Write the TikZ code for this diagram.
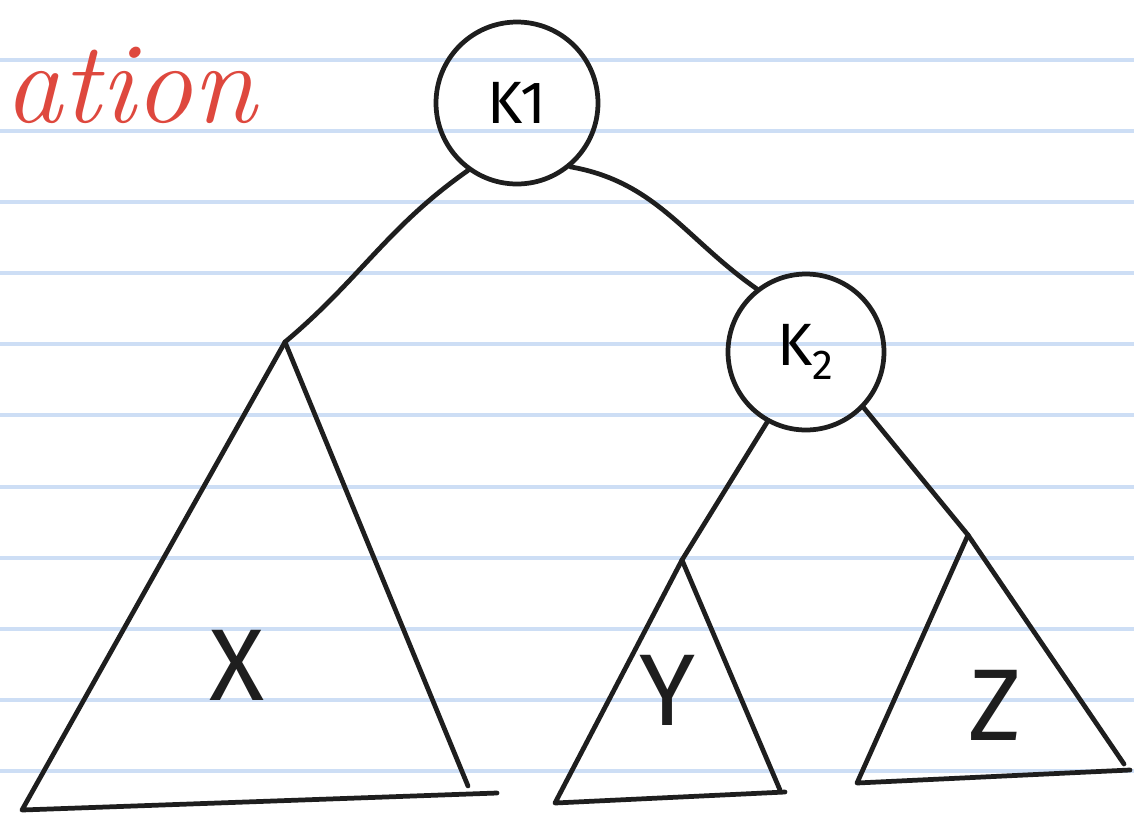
\documentclass[tikz,border=0pt]{standalone}
\usepackage{fontspec}
\setsansfont{Fira Sans}
\definecolor{rulecol}{RGB}{205,222,245}
\definecolor{penred}{RGB}{222,72,62}
\definecolor{ink}{RGB}{30,30,30}
\begin{document}
\begin{tikzpicture}[x=0.02cm,y=-0.02cm,
  rule/.style={draw=rulecol,line width=2.2pt},
  pen/.style={draw=ink,line width=2.7pt,line cap=round,line join=round},
  keynode/.style={circle,pen,inner sep=0pt,font=\sffamily\fontsize{34}{34}\selectfont},
  leaflabel/.style={font=\sffamily\fontsize{58}{58}\selectfont,text=ink}]
\useasboundingbox (0,0) rectangle (1134,816);
\clip (0,0) rectangle (1134,816);
\fill[white] (0,0) rectangle (1134,816);
\foreach \y in {60,131,202,273,344,415,487,558,629,700,771}
  \draw[rule] (0,\y) -- (1134,\y);
% red fragment
\node[anchor=base west,text=penred,font=\itshape\fontsize{66}{66}\selectfont,inner sep=0pt] (frag) at (4,122) {ation};
% key nodes
\node[keynode,minimum size=3.24cm] (k1) at (517,103) {K1};
\node[keynode,minimum size=3.12cm] (k2) at (806,352) {K\textsubscript{2}};
% subtree apexes
\coordinate (xa) at (285,342);
\coordinate (ya) at (682,560);
\coordinate (za) at (968,535);
% connectors
\draw[pen] (k1.-126) to[out=215,in=40] (xa);
\draw[pen] (k1.-50) to[out=-10,in=145] (k2.128);
\draw[pen] (k2.-119) -- (ya);
\draw[pen] (k2.-44) -- (za);
% triangles
\draw[pen] (xa) -- (22,810) -- (497,793);
\draw[pen] (xa) -- (468,786);
\draw[pen] (ya) -- (555,803) -- (785,792);
\draw[pen] (ya) -- (780,790);
\draw[pen] (za) -- (857,783) -- (1130,770);
\draw[pen] (za) -- (1124,764);
% labels
\node[leaflabel] (xl) at (237,665) {X};
\node[leaflabel] (yl) at (668,690) {Y};
\node[leaflabel] (zl) at (995,705) {Z};
\end{tikzpicture}
\end{document}
